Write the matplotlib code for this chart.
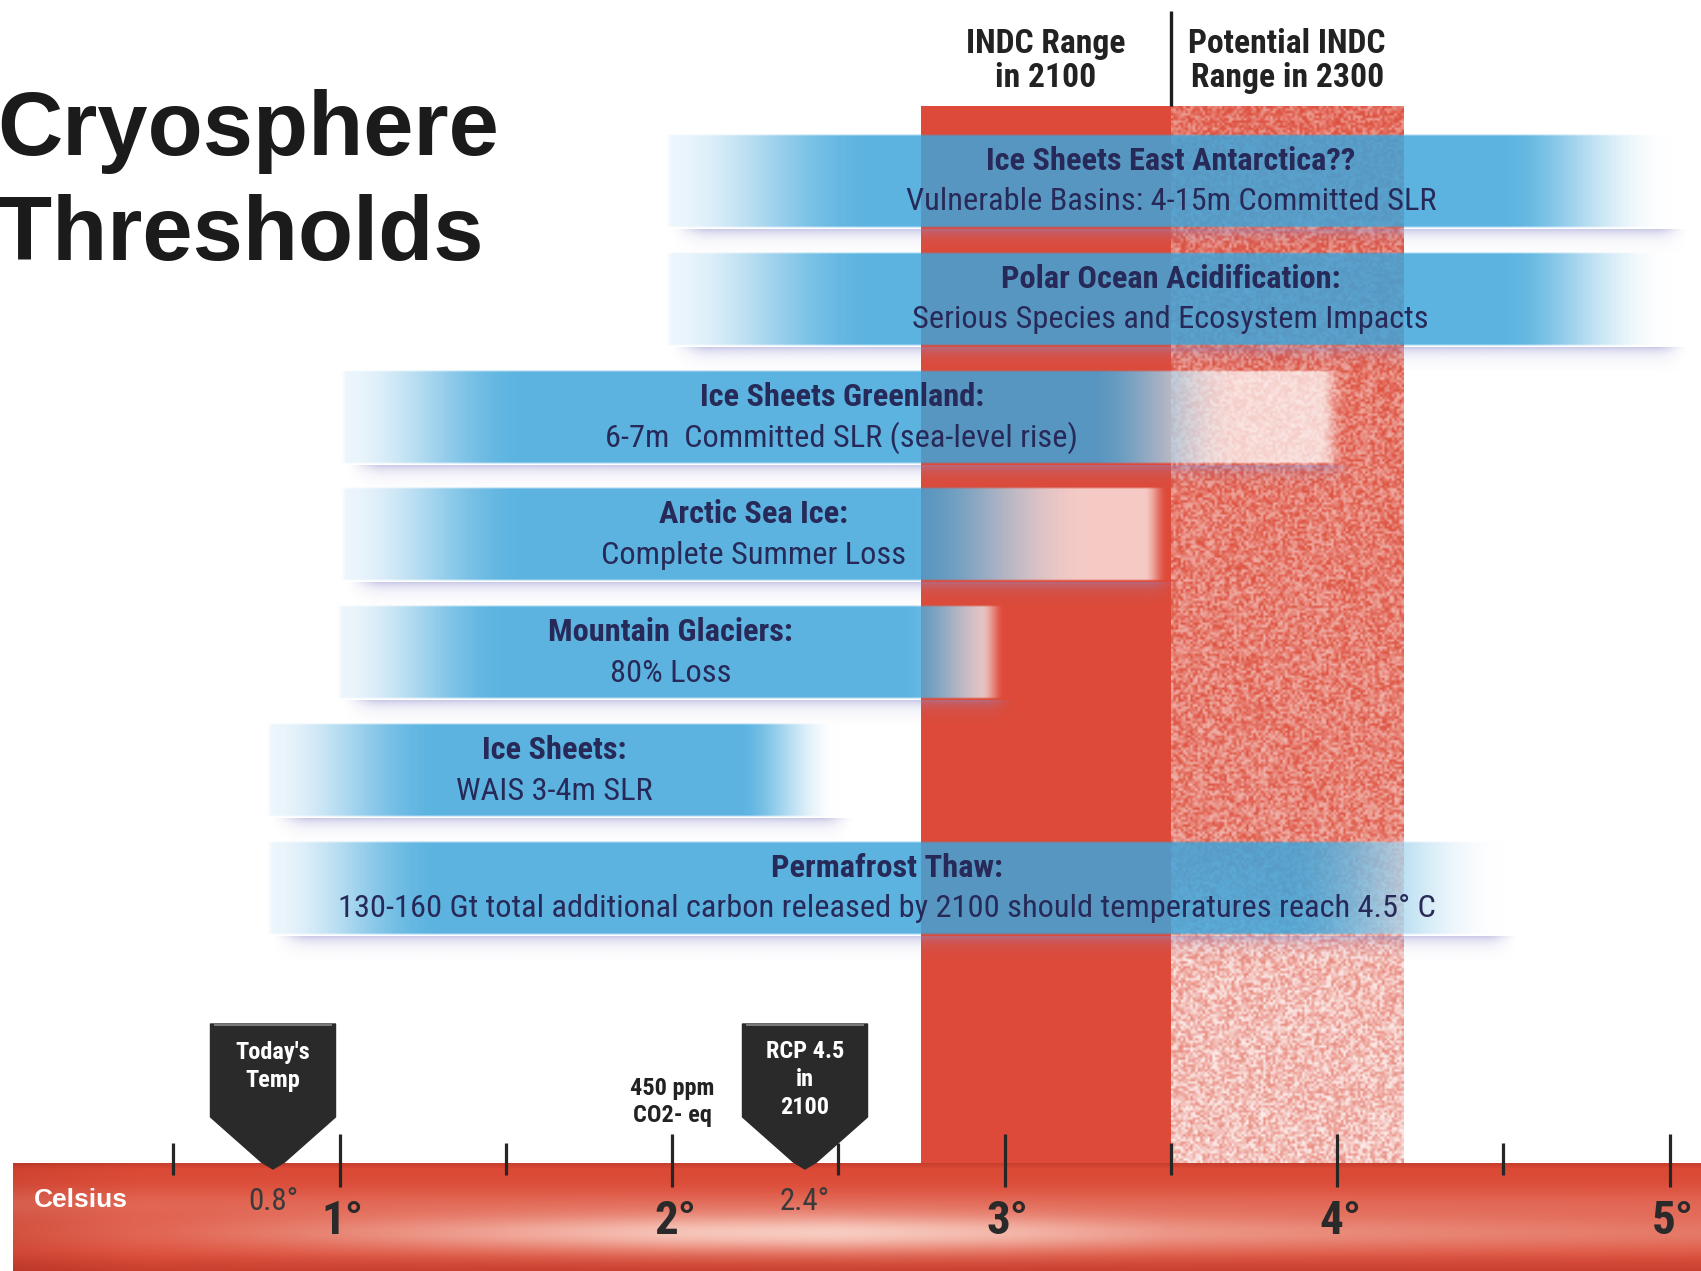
import numpy as np
import matplotlib
matplotlib.use("Agg")
import matplotlib.pyplot as plt
from matplotlib import font_manager
from matplotlib.patches import Polygon

# ------------------------------------------------------------------ data
title_lines = ["Cryosphere", "Thresholds"]

range_labels = ["INDC Range\nin 2100", "Potential INDC\nRange in 2300"]
range_lo = [2.75, 3.5]
range_hi = [3.5, 4.2]

threshold_titles = [
    "Ice Sheets East Antarctica??",
    "Polar Ocean Acidification:",
    "Ice Sheets Greenland:",
    "Arctic Sea Ice:",
    "Mountain Glaciers:",
    "Ice Sheets:",
    "Permafrost Thaw:",
]
threshold_details = [
    "Vulnerable Basins: 4-15m Committed SLR",
    "Serious Species and Ecosystem Impacts",
    "6-7m  Committed SLR (sea-level rise)",
    "Complete Summer Loss",
    "80% Loss",
    "WAIS 3-4m SLR",
    "130-160 Gt total additional carbon released by 2100 should temperatures reach 4.5° C",
]
# warming (deg C) where each threshold band begins, becomes solid,
# starts to fade, is fully faded, and ends
thr_start = [1.98, 1.98, 1.00, 1.00, 0.99, 0.78, 0.78]
thr_solid = [2.60, 2.60, 1.55, 1.55, 1.50, 1.30, 1.30]
thr_fade = [4.50, 4.50, 3.25, 2.72, 2.70, 2.20, 3.85]
thr_pale = [5.00, 5.00, 3.70, 3.25, 3.00, 2.50, 4.50]
thr_end = [5.02, 5.02, 4.02, 3.49, 3.00, 2.51, 4.51]

marker_temps = [0.8, 2.4]
marker_labels = ["Today's\nTemp", "RCP 4.5\nin\n2100"]
co2_temp = 2.0
co2_label = "450 ppm\nCO2- eq"
major_ticks = [1, 2, 3, 4, 5]
minor_ticks = [0.5, 1.5, 2.5, 3.5, 4.5]
axis_name = "Celsius"

# ------------------------------------------------------------------ layout
W, H = 1701, 1271
PX_PER_DEG = 332.5
X_ORIGIN_PX = 7.0
XMIN = -X_ORIGIN_PX / PX_PER_DEG
XMAX = (W - X_ORIGIN_PX) / PX_PER_DEG
BAR_TOP = 1163          # top of the temperature scale bar (px from top)
RANGE_TOP = 106         # top of the INDC range columns
ROW0, ROW_STEP, BAND_H = 181, 117.8, 96


def px2t(px):
    return (px - X_ORIGIN_PX) / PX_PER_DEG


# ------------------------------------------------------------------ fonts
_fonts = font_manager.fontManager.ttflist
_names = {f.name for f in _fonts}
_dv_cond = [f for f in _fonts if f.name == "DejaVu Sans" and "condensed" in str(f.stretch)]
if "Liberation Sans Narrow" in _names:
    NARROW = dict(family="Liberation Sans Narrow")
    K = 1.0
elif "Roboto Condensed" in _names:
    NARROW = dict(family="Roboto Condensed")
    K = 0.97
elif _dv_cond:
    NARROW = dict(family="DejaVu Sans", fontstretch="condensed")
    K = 0.86
else:
    NARROW = dict(family="Liberation Sans")
    K = 0.82
HEAVY = "Liberation Sans" if "Liberation Sans" in _names else "DejaVu Sans"

NAVY = "#272a58"
INK = "#222222"
BLUE = np.array([0.24, 0.65, 0.86])
PALE = np.array([0.92, 0.96, 0.99])
WHITE = np.ones(3)


def smooth(t):
    t = np.clip(t, 0.0, 1.0)
    return t * t * (3 - 2 * t)


fig = plt.figure(figsize=(W / 100, H / 100), dpi=100)
ax = fig.add_axes([0, 0, 1, 1])
ax.axis("off")


def stack(x, yc, text, dy, **kw):
    lines = text.split("\n")
    n = len(lines)
    for k, ln in enumerate(lines):
        ax.text(x, yc + (k - (n - 1) / 2) * dy, ln, ha="center", va="center", **kw)


# ------------------------------------------------------------------ INDC range columns
centers = [(a + b) / 2 for a, b in zip(range_lo, range_hi)]
widths = [b - a for a, b in zip(range_lo, range_hi)]
ax.bar(centers, [BAR_TOP - RANGE_TOP] * 2, width=widths, bottom=RANGE_TOP,
       color=["#dd4a39", "#f0b2a8"], linewidth=0, zorder=1)

# speckled texture for the longer-term range
rng = np.random.default_rng(11)
tw = int(widths[1] * PX_PER_DEG / 2.4)
th = int((BAR_TOP - RANGE_TOP) / 2.4)
ty = np.linspace(RANGE_TOP, BAR_TOP, th)
base = np.interp(ty, [RANGE_TOP, 400, 840, 950, BAR_TOP], [0.17, 0.24, 0.30, 0.60, 0.64])
noise = rng.random((th, tw))
wmix = np.clip(base[:, None] + 0.6 * (noise - 0.5), 0, 1)[..., None]
tex = np.array([0.87, 0.32, 0.25]) * (1 - wmix) + WHITE * wmix
ax.imshow(tex, extent=(range_lo[1], range_hi[1], BAR_TOP, RANGE_TOP), origin="upper",
          aspect="auto", interpolation="bilinear", zorder=1.5)

# headers and divider
for c, lab in zip(centers, range_labels):
    stack(c, 61, lab, 34, fontsize=25 * K, fontweight="bold", color=INK, **NARROW)
ax.vlines(range_lo[1], 11, RANGE_TOP, color="#1e1e1e", lw=2.4, zorder=2)

# ------------------------------------------------------------------ threshold bands
for i in range(len(threshold_titles)):
    x0, xs, xf, xp, x1 = thr_start[i], thr_solid[i], thr_fade[i], thr_pale[i], thr_end[i]
    yc = ROW0 + i * ROW_STEP
    top, bot = yc - BAND_H / 2, yc + BAND_H / 2

    nx, ny = 900, int(BAND_H)
    xx = np.linspace(x0, x1, nx)
    yy = np.linspace(top, bot, ny)
    a_left = smooth((xx - x0) / (xs - x0))
    a_right = smooth((xx - xf) / (xp - xf))
    col = PALE[None, :] * (1 - a_left[:, None]) + BLUE[None, :] * a_left[:, None]
    col = col * (1 - a_right[:, None]) + WHITE[None, :] * a_right[:, None]
    alpha_x = 0.84 * (1 - 0.15 * a_right) * smooth((x1 - xx) / 0.07) * smooth((xx - x0) / 0.02)
    alpha_y = smooth((yy - top) / 3.0) * smooth((bot - yy) / 3.0)
    img = np.zeros((ny, nx, 4))
    img[..., :3] = col[None, :, :]
    img[..., 3] = alpha_y[:, None] * alpha_x[None, :]
    ax.imshow(img, extent=(x0, x1, bot, top), origin="upper", aspect="auto",
              interpolation="bilinear", zorder=3)

    # soft lavender shadow under the band
    sh_y = np.linspace(bot, bot + 24, 24)
    sx = np.linspace(x0, x1 + 0.04, nx)
    sh_a = 0.45 * np.exp(-(sh_y - bot) / 7.0)[:, None] * \
        (smooth((sx - x0 - 0.01) / 0.12) * smooth((x1 + 0.04 - sx) / 0.1))[None, :]
    sh = np.zeros((24, nx, 4))
    sh[..., :3] = np.array([0.55, 0.55, 0.80])
    sh[..., 3] = sh_a
    ax.imshow(sh, extent=(x0, x1 + 0.04, bot + 24, bot), origin="upper", aspect="auto",
              interpolation="bilinear", zorder=2.5)

    xm = (x0 + x1) / 2
    ax.text(xm, yc - 20, threshold_titles[i], ha="center", va="center", fontsize=24 * K,
            fontweight="bold", color=NAVY, zorder=4, **NARROW)
    ax.text(xm, yc + 21, threshold_details[i], ha="center", va="center", fontsize=24 * K,
            color=NAVY, zorder=4, **NARROW)

# ------------------------------------------------------------------ temperature scale bar
bar_x0 = px2t(13)
bx = np.linspace(bar_x0, XMAX, 800)
by = np.arange(BAR_TOP, H) + 0.5
red = np.array([0.86, 0.29, 0.21])
dark = np.array([0.72, 0.21, 0.15])
hl = np.array([0.99, 0.88, 0.84])
amp = np.interp(bx, [0, 0.5, 1, 1.5, 2, 2.5, 3, 3.5, 4, 4.5, 5.1],
                [0.08, 0.2, 0.4, 0.6, 0.8, 0.86, 0.72, 0.5, 0.42, 0.36, 0.3])
Wh = amp[None, :] * np.exp(-((by[:, None] - 1233) / 20.0) ** 2)
Wh += 0.16 * np.exp(-((by[:, None] - 1203) / 16.0) ** 2) * np.ones_like(bx)[None, :]
Wh = np.clip(Wh, 0, 1)
D = (np.clip((by - 1252) / 19.0, 0, 1) * 0.55 + np.clip((1169 - by) / 6.0, 0, 1) * 0.6)[:, None] \
    + 0.35 * np.clip((0.4 - bx) / 0.4, 0, 1)[None, :]
D = np.clip(D, 0, 1)
bar = red * (1 - D[..., None]) + dark * D[..., None]
bar = bar * (1 - Wh[..., None]) + hl * Wh[..., None]
ax.imshow(bar, extent=(bar_x0, XMAX, H, BAR_TOP), origin="upper", aspect="auto",
          interpolation="bilinear", zorder=5)

ax.vlines(major_ticks, 1134, 1187, color="#262626", lw=2.3, zorder=6)
ax.vlines(minor_ticks, 1143, 1175, color="#262626", lw=2.3, zorder=6)
for t in major_ticks:
    ax.text(t + 0.01, 1221, f"{t}°", ha="center", va="center", fontsize=35 * K,
            fontweight="bold", color="#2a2a2a", zorder=7, **NARROW)
ax.text(px2t(34), 1200, axis_name, ha="left", va="center", fontsize=19,
        fontweight="bold", color="white", family=HEAVY, zorder=7)

# 450 ppm reference
stack(co2_temp, 1102, co2_label, 27, fontsize=18 * K, fontweight="bold", color="#222222",
      zorder=7, **NARROW)

# ------------------------------------------------------------------ pointer markers
hw = 0.188
for v, lab in zip(marker_temps, marker_labels):
    verts = [(v - hw, 1024), (v + hw, 1024), (v + hw, 1117), (v + 0.035, 1162),
             (v, 1169), (v - 0.035, 1162), (v - hw, 1117)]
    ax.add_patch(Polygon(verts, closed=True, facecolor="#2a2a2a", edgecolor="#2a2a2a",
                         lw=1.0, joinstyle="round", zorder=8))
    ax.hlines(1025, v - hw + 0.01, v + hw - 0.01, color="#8a8a8a", lw=1.2, zorder=8.5)
    n = len(lab.split("\n"))
    yc = 1067 if n == 2 else 1080
    stack(v, yc, lab, 28, fontsize=18 * K, fontweight="bold", color="white", zorder=9, **NARROW)
    ax.text(v, 1202, f"{v}°", ha="center", va="center", fontsize=23 * K,
            color="#3a3a3a", zorder=7, **NARROW)

# ------------------------------------------------------------------ title
for k, ln in enumerate(title_lines):
    fig.text(-3 / W, 1 - (155 + 105 * k) / H, ln, ha="left", va="baseline", fontsize=65,
             fontweight="bold", color="#1b1b1b", family=HEAVY)

ax.set_xlim(XMIN, XMAX)
ax.set_ylim(H, 0)
fig.savefig("out.png", dpi=100, facecolor="white")
